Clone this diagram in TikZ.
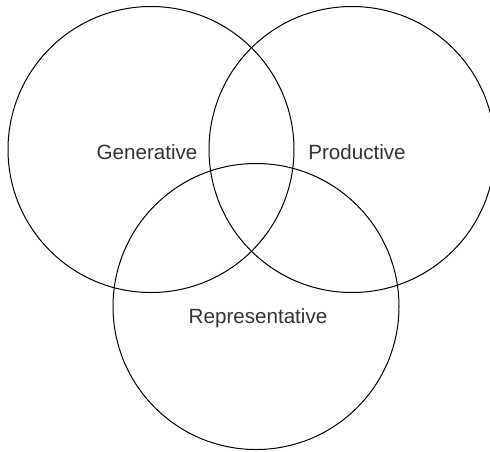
\documentclass[tikz,border=0pt]{standalone}
\usepackage{fontspec}
\setmainfont{Liberation Sans}
\usetikzlibrary{positioning}

\begin{document}
\begin{tikzpicture}[x=1pt, y=-1pt, line width=1pt,
    ring/.style={circle, draw, minimum size=286pt, inner sep=0pt},
    word/.style={text=black!80, font=\fontsize{20.6}{24}\selectfont}]

    % Rahmen
    \useasboundingbox (0,0) rectangle (490,451);
    \clip (0,0) rectangle (490,451);

    % Kreise
    \node[ring] (g) at (151,149.5) {};
    \node[ring] (p) at (352,149.5) {};
    \node[ring] (r) at (256,306.5) {};

    % Beschriftungen
    \node[word] (gl) at ([shift={(-4,2.5)}]g.center) {Generative};
    \node[word] (pl) at ([shift={(5,2.5)}]p.center) {Productive};
    \node[word] (rl) at ([shift={(2,11.5)}]r.center) {Representative};

\end{tikzpicture}
\end{document}
